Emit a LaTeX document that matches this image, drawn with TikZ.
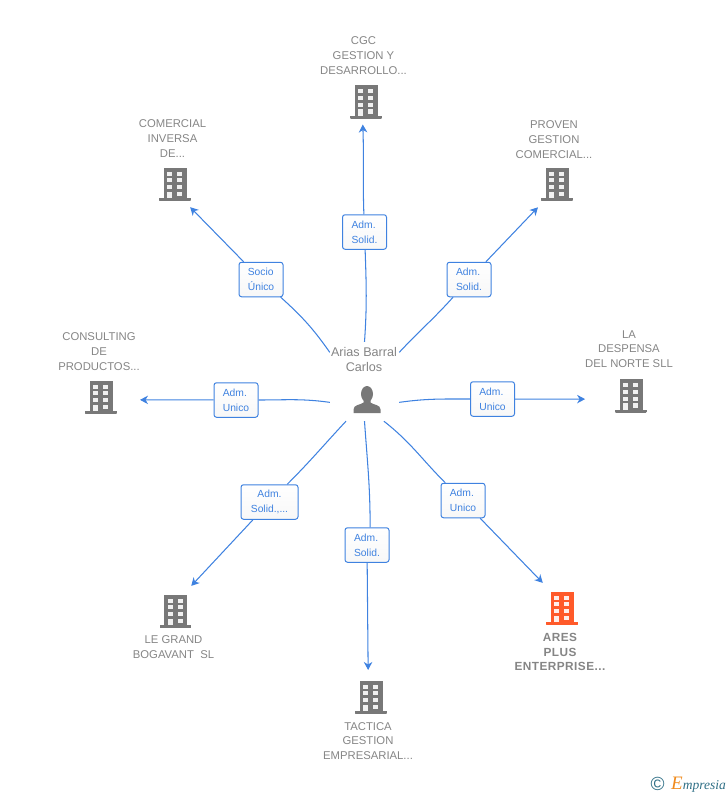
\documentclass[tikz,border=0pt]{standalone}
\usepackage{fontspec}
\setmainfont{Liberation Sans}
\newfontfamily\logofont{Liberation Serif}
\usetikzlibrary{arrows.meta}
\definecolor{linkblue}{HTML}{3F82E0}
\definecolor{namegray}{HTML}{858585}
\definecolor{icongray}{HTML}{787878}
\definecolor{iconorange}{HTML}{FF5A2A}
\definecolor{logoteal}{HTML}{2F6F86}
\definecolor{logoorange}{HTML}{F08A1C}
\tikzset{
	link/.style={draw=linkblue,line width=1.05pt},
	rolebox/.style={draw=linkblue,line width=1pt,rounded corners=2.5pt,top color=white,bottom color=black!3,text=linkblue,align=left,inner sep=0pt,minimum width=44pt,minimum height=34.5pt,font={\fontsize{10.3}{15}\selectfont}},
	firmname/.style={text=namegray,align=center,inner sep=0pt,font={\fontsize{11.3}{14.8}\selectfont}},
	building/.style={circle,inner sep=0pt,minimum size=46pt,path picture={
		\begin{scope}[shift={(path picture bounding box.center)}]
			\fill[#1] (-11.5,-16.5) rectangle (11.5,14.2);
			\fill[#1] (-15.8,14) rectangle (15.8,17);
			\foreach \yy in {-12.5,-5.8,1} {
				\fill[white!90!#1] (-7.7,\yy) rectangle (-2.7,\yy+4);
				\fill[white!90!#1] (2.3,\yy) rectangle (7.3,\yy+4);
			}
			\fill[white!90!#1] (-7.7,7.7) rectangle (-2.7,14);
			\fill[white!90!#1] (2.3,7.7) rectangle (7.3,12);
		\end{scope}
	}},
	person/.style={rectangle,inner sep=0pt,minimum width=69pt,minimum height=79pt,path picture={
		\begin{scope}[shift={(path picture bounding box.center)}]
			\fill[icongray] (2.5,12.5) ellipse (6 and 8);
			\fill[icongray] (-1,18) -- (-1,21) .. controls (-4,23.5) and (-11,23) .. (-11,28) -- (-11,31.5) -- (16,31.5) -- (16,28) .. controls (16,23) and (9,23.5) .. (6,21) -- (6,18) -- cycle;
		\end{scope}
	}}
}
\begin{document}
\begin{tikzpicture}[x=1pt,y=-1pt,>={Stealth[length=8pt,width=8.5pt,inset=2.5pt]}]
	\useasboundingbox (0,0) rectangle (728,795);
	%Persona
	\node [person] (arias) at (364.5,381.5) {};
	\node [firmname,font={\fontsize{12.6}{14.8}\selectfont}] (ariasname) at (364,359.5) {Arias Barral\\Carlos};
	%Edifici
	\node [building=icongray] (cgc) at (366,101.5) {};
	\node [building=icongray] (comercial) at (175,184) {};
	\node [building=icongray] (proven) at (557,184) {};
	\node [building=icongray] (consulting) at (101,397) {};
	\node [building=icongray] (despensa) at (631,395.5) {};
	\node [building=icongray] (bogavant) at (175.5,611) {};
	\node [building=iconorange] (ares) at (562,608) {};
	\node [building=icongray] (tactica) at (371,697) {};
	%Nomi
	\node [firmname] (cgcname) at (363.5,55.5) {CGC\\GESTION Y\\DESARROLLO...};
	\node [firmname] (comercialname) at (172.5,138.5) {COMERCIAL\\INVERSA\\DE...};
	\node [firmname] (provenname) at (554,139.5) {PROVEN\\GESTION\\COMERCIAL...};
	\node [firmname] (consultingname) at (99,351.5) {CONSULTING\\DE\\PRODUCTOS...};
	\node [firmname] (despensaname) at (629,349) {LA\\DESPENSA\\DEL NORTE SLL};
	\node [firmname] (bogavantname) at (173.5,647.5) {LE GRAND\\BOGAVANT\ \ SL};
	\node [firmname,font={\bfseries\fontsize{11.8}{14.8}\selectfont\addfontfeature{LetterSpace=4}}] (aresname) at (560,652) {ARES\\PLUS\\ENTERPRISE...};
	\node [firmname] (tacticaname) at (368,741) {TACTICA\\GESTION\\EMPRESARIAL...};
	%Ruoli
	\node [rolebox] (lcgc) at (364.5,232) {Adm.\\Solid.};
	\node [rolebox] (lcomercial) at (261,279.5) {Socio\\Único};
	\node [rolebox] (lproven) at (469,279.5) {Adm.\\Solid.};
	\node [rolebox] (lconsulting) at (236,400) {Adm.\\Unico};
	\node [rolebox] (ldespensa) at (492.5,399) {Adm.\\Unico};
	\node [rolebox,align=center,minimum width=57pt] (lbogavant) at (269.5,502) {Adm.\\Solid.,...};
	\node [rolebox] (ltactica) at (367,545) {Adm.\\Solid.};
	\node [rolebox] (lares) at (463,500.5) {Adm.\\Unico};
	%Collegamenti
	\draw [link] (arias.north) to [out=86,in=-88] (lcgc);
	\draw [link,->,out=92,in=-88] (lcgc) to (cgc.-98);
	\draw [link] (arias.140) to [out=125,in=-42] (lcomercial);
	\draw [link,->,shorten >=4.6pt] (lcomercial) -- (comercial.-59);
	\draw [link] (arias.40) to [out=47,in=-132] (lproven);
	\draw [link,->,shorten >=6.9pt] (lproven) -- (proven.-128);
	\draw [link] (arias.211) to [out=172,in=0] (lconsulting);
	\draw [link,->,shorten >=16pt] (lconsulting) -- (consulting.-7.5);
	\draw [link] (arias.-31) to [out=8,in=180] (ldespensa);
	\draw [link,->,shorten >=23pt] (ldespensa) -- (despensa.-171);
	\draw [link] (arias.-115) to [out=-133,in=45] (lbogavant);
	\draw [link,->,shorten >=6.6pt] (lbogavant) -- (bogavant.61);
	\draw [link] (arias.south) to [out=-86,in=90] (ltactica.80);
	\draw [link,->,shorten >=4pt] (ltactica) -- (tactica.97.5);
	\draw [link] (arias.-64) to [out=-38,in=135] (lares);
	\draw [link,->,shorten >=8.5pt] (lares) -- (ares.125);
	%Marchio
	\node [inner sep=0pt,text=logoteal,font={\fontsize{19}{19}\selectfont}] (copyright) at (657.5,784) {©};
	\node [inner sep=0pt,anchor=west,text=logoteal,font={\logofont\itshape\fontsize{13.5}{14}\selectfont}] (empresia) at (671,785) {{\color{logoorange}\fontsize{19}{19}\selectfont E}mpresia};
\end{tikzpicture}
\end{document}
